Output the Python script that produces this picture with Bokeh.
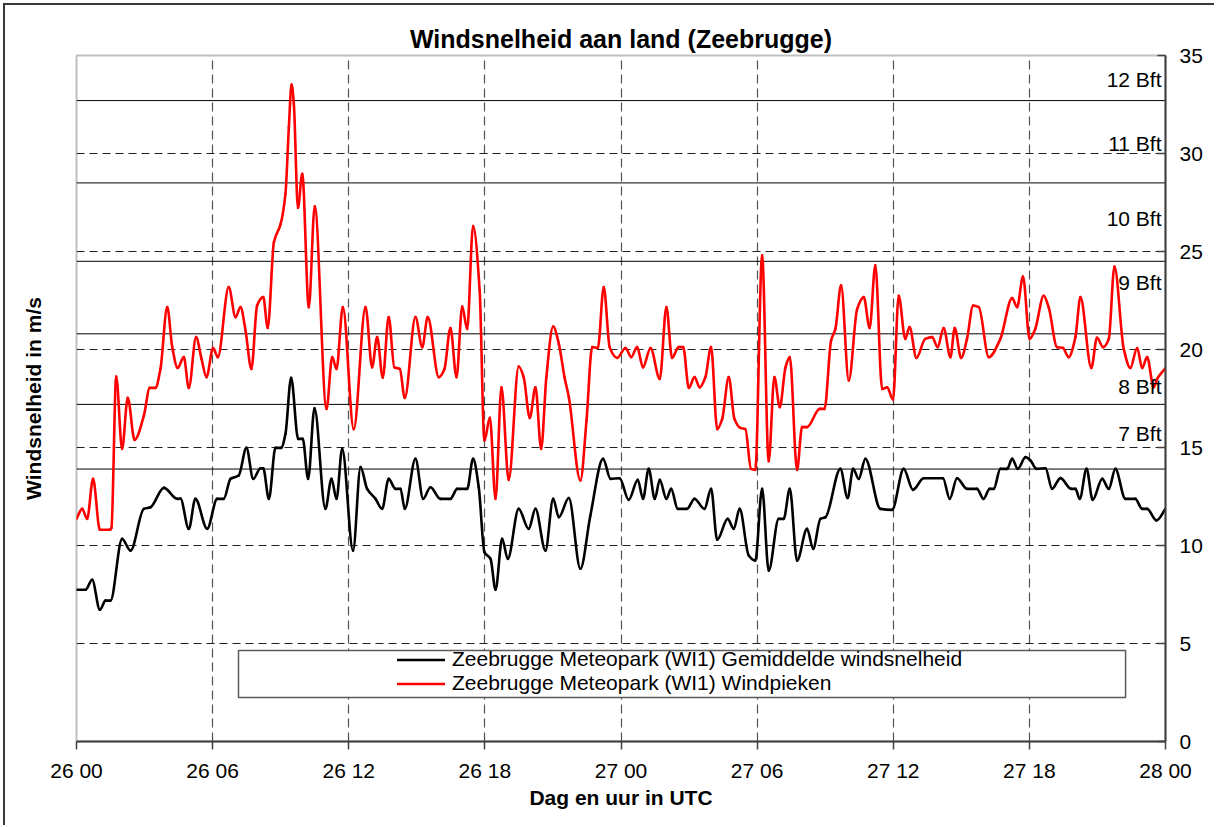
from bokeh.plotting import figure
from bokeh.models import (Range1d, Span, Label, Legend, LegendItem, BoxAnnotation,
                          FixedTicker, LinearAxis)
from bokeh.embed import file_html
from bokeh.resources import INLINE

# ---------------- data (hours since 26 00 UTC, m/s) ----------------
mean_hours = [0.0, 0.4, 0.69, 1.03, 1.28, 1.5, 2.01, 2.38, 2.97, 3.26, 3.85, 4.44, 4.58, 4.95,
              5.24, 5.76, 6.2, 6.49, 6.79, 7.15, 7.49, 7.79, 8.11, 8.23, 8.48, 8.77, 9.02, 9.21,
              9.46, 9.77, 9.97, 10.21, 10.49, 10.97, 11.24, 11.46, 11.71, 12.19, 12.52, 12.81,
              13.18, 13.47, 13.76, 14.06, 14.28, 14.47, 14.94, 15.28, 15.6, 16.04, 16.48, 16.78,
              17.22, 17.48, 17.73, 17.98, 18.25, 18.47, 18.76, 19.01, 19.49, 19.93, 20.23, 20.67,
              21.01, 21.26, 21.7, 22.21, 22.65, 23.21, 23.54, 23.94, 24.34, 24.74, 24.97, 25.22,
              25.49, 25.71, 26.0, 26.21, 26.5, 26.91, 27.24, 27.68, 27.97, 28.24, 28.7, 28.97,
              29.23, 29.63, 29.92, 30.22, 30.51, 30.95, 31.17, 31.44, 31.76, 32.2, 32.47, 32.79,
              33.01, 33.67, 33.99, 34.23, 34.48, 34.77, 35.43, 35.95, 36.46, 36.87, 37.34, 38.19,
              38.49, 38.81, 39.25, 39.69, 39.98, 40.25, 40.43, 40.72, 41.02, 41.24, 41.49, 41.83,
              42.05, 42.31, 42.71, 43.0, 43.37, 43.84, 44.03, 44.22, 44.52, 44.79, 45.21, 45.5,
              45.79, 46.23, 46.67, 46.97, 47.19, 47.6, 48.0]
mean_speed = [7.74, 7.74, 8.25, 6.72, 7.19, 7.19, 10.34, 9.74, 11.87, 11.95, 12.94, 12.38, 12.4, 10.85,
              12.38, 10.85, 12.38, 12.38, 13.4, 13.57, 14.98, 13.4, 13.94, 13.94, 12.38, 14.98, 14.98, 15.69,
              18.56, 15.44, 15.44, 13.4, 17.0, 11.87, 13.4, 12.38, 14.93, 9.74, 14.0, 12.89,
              12.38, 11.87, 13.4, 12.89, 12.89, 11.87, 14.42, 12.38, 12.97, 12.38, 12.38, 12.89,
              12.89, 14.42, 12.97, 9.66, 9.32, 7.74, 10.34, 9.32, 11.87, 10.85, 11.87, 9.74,
              12.38, 11.44, 12.42, 8.81, 11.53, 14.42, 13.4, 13.43, 12.33, 13.35, 12.38, 13.91,
              12.38, 13.35, 12.38, 12.89, 11.87, 11.87, 12.38, 11.87, 12.89, 10.29, 11.36, 10.85,
              11.87, 9.49, 9.23, 12.89, 8.72, 11.36, 11.36, 12.89, 9.23, 10.85, 9.83, 11.36,
              11.44, 13.91, 12.42, 13.91, 13.4, 14.42, 11.87, 11.82, 13.91, 12.84, 13.43, 13.43,
              12.38, 13.43, 12.89, 12.89, 12.38, 12.89, 12.89, 13.91, 13.91, 14.42, 13.91, 14.51,
              14.34, 13.91, 13.94, 12.89, 13.44, 12.89, 12.89, 12.38, 13.91, 12.33, 13.4, 12.89,
              13.91, 12.38, 12.38, 11.87, 11.87, 11.28, 11.87]

gust_hours = [0.0, 0.25, 0.47, 0.73, 1.03, 1.47, 1.54, 1.75, 2.01, 2.26, 2.56, 2.97, 3.23, 3.48,
              3.7, 4.0, 4.22, 4.46, 4.73, 4.95, 5.27, 5.51, 5.73, 6.02, 6.23, 6.71, 7.01, 7.23,
              7.45, 7.71, 7.96, 8.23, 8.43, 8.7, 9.0, 9.21, 9.36, 9.48, 9.58, 9.76, 9.95, 10.24,
              10.5, 11.02, 11.27, 11.46, 11.74, 12.22, 12.74, 13.03, 13.25, 13.5, 13.76, 14.01,
              14.25, 14.47, 14.94, 15.24, 15.48, 15.97, 16.22, 16.48, 16.75, 17.0, 17.22, 17.48,
              17.77, 17.98, 18.22, 18.47, 18.73, 19.05, 19.49, 19.71, 19.98, 20.23, 20.48, 20.71,
              21.01, 21.26, 21.51, 21.7, 22.21, 22.48, 22.73, 22.98, 23.24, 23.5, 23.83, 24.2,
              24.45, 24.71, 24.97, 25.3, 25.71, 26.0, 26.25, 26.54, 26.74, 26.99, 27.24, 27.47,
              27.72, 27.97, 28.24, 28.46, 28.75, 29.0, 29.26, 29.48, 29.73, 29.92, 30.22, 30.51,
              30.76, 31.0, 31.25, 31.44, 31.76, 31.98, 32.2, 32.76, 32.97, 33.26, 33.45, 33.7,
              34.04, 34.41, 34.7, 34.96, 35.21, 35.51, 35.73, 35.99, 36.24, 36.53, 36.72, 37.02,
              37.41, 37.71, 37.96, 38.22, 38.52, 38.71, 38.99, 39.25, 39.52, 39.77, 40.21, 40.72,
              41.24, 41.46, 41.72, 42.01, 42.26, 42.63, 42.85, 43.22, 43.48, 43.73, 44.03, 44.25,
              44.73, 44.98, 45.25, 45.5, 45.75, 46.16, 46.45, 46.75, 46.97, 47.19, 47.48, 47.63, 48.0]
gust_speed = [11.36, 11.87, 11.36, 13.4, 10.8, 10.8, 10.9, 18.62, 14.93, 17.53, 15.39, 16.63, 18.04, 18.04,
              19.01, 22.16, 20.12, 19.06, 19.61, 18.04, 20.63, 19.52, 18.59, 20.08, 19.61, 23.18, 21.65, 22.16,
              20.97, 19.01, 22.24, 22.67, 21.1, 25.47, 26.41, 27.94, 31.34, 33.52, 32.53, 27.23, 28.96, 22.16,
              27.31, 16.97, 19.61, 19.01, 22.16, 15.94, 22.16, 19.09, 20.63, 18.56, 21.65, 19.09,
              19.01, 17.53, 21.65, 20.12, 21.65, 18.59, 19.01, 21.1, 18.59, 22.19, 21.05, 26.3,
              23.0, 15.36, 16.51, 12.38, 18.07, 13.35, 19.13, 18.59, 16.51, 18.07, 14.93, 18.59,
              21.17, 20.29, 18.59, 17.57, 13.32, 16.38, 20.12, 20.08, 23.18, 20.12, 19.57, 20.08,
              19.61, 20.12, 19.09, 20.08, 18.5, 22.16, 19.57, 20.12, 20.12, 18.04, 18.59, 18.07,
              18.59, 20.12, 15.94, 16.46, 18.59, 16.46, 16.0, 15.94, 13.91, 13.86, 24.8, 14.3,
              18.59, 17.06, 19.09, 19.61, 13.86, 16.04, 16.04, 16.97, 16.97, 20.46, 21.05, 23.27,
              18.42, 22.07, 22.67, 21.1, 24.29, 17.99, 18.07, 17.45, 22.74, 20.54, 21.14, 19.57,
              20.54, 20.63, 20.12, 21.1, 19.61, 21.1, 19.57, 20.54, 22.24, 22.16, 19.61, 20.54,
              22.62, 22.16, 23.72, 20.54, 21.05, 22.74, 22.16, 20.12, 20.08, 19.61, 20.63, 22.67,
              19.06, 20.6, 20.12, 20.54, 24.23, 20.03, 19.06, 20.08, 19.06, 19.61, 18.07, 18.5, 19.06]

tick_hours = [0, 6, 12, 18, 24, 30, 36, 42, 48]
tick_labels = ["26 00", "26 06", "26 12", "26 18", "27 00", "27 06", "27 12", "27 18", "28 00"]
y_ticks = [0, 5, 10, 15, 20, 25, 30, 35]

bft_thresholds = [13.9, 17.2, 20.8, 24.5, 28.5, 32.7]
bft_names = ["7 Bft", "8 Bft", "9 Bft", "10 Bft", "11 Bft", "12 Bft"]
bft_label_y = [15.7, 18.1, 23.4, 26.7, 30.5, 33.8]

series_names = ["Zeebrugge Meteopark (WI1) Gemiddelde windsnelheid",
                "Zeebrugge Meteopark (WI1) Windpieken"]

FONT = "Liberation Sans"


def smooth_segments(xs, ys):
    """Cubic Bezier pieces through the read points (shape-preserving Hermite tangents),
    rendering the series as a smoothed line like the original spreadsheet chart."""
    n = len(xs)
    h = [xs[k + 1] - xs[k] for k in range(n - 1)]
    d = [(ys[k + 1] - ys[k]) / h[k] for k in range(n - 1)]
    m = [0.0] * n
    m[0], m[-1] = d[0], d[-1]
    for k in range(1, n - 1):
        if d[k - 1] * d[k] <= 0:
            m[k] = 0.0
        else:
            w1 = 2 * h[k] + h[k - 1]
            w2 = h[k] + 2 * h[k - 1]
            m[k] = (w1 + w2) / (w1 / d[k - 1] + w2 / d[k])
    seg = dict(x0=[], y0=[], x1=[], y1=[], cx0=[], cy0=[], cx1=[], cy1=[])
    for k in range(n - 1):
        seg["x0"].append(xs[k]); seg["y0"].append(ys[k])
        seg["x1"].append(xs[k + 1]); seg["y1"].append(ys[k + 1])
        seg["cx0"].append(xs[k] + h[k] / 3.0)
        seg["cy0"].append(ys[k] + m[k] * h[k] / 3.0)
        seg["cx1"].append(xs[k + 1] - h[k] / 3.0)
        seg["cy1"].append(ys[k + 1] - m[k + 1] * h[k] / 3.0)
    return seg


# ---------------- figure ----------------
W, H = 1211, 822
p = figure(width=W, height=H, x_range=Range1d(0, 48), y_range=Range1d(0, 35),
           output_backend="svg", toolbar_location=None, y_axis_location="right",
           min_border_left=71, min_border_right=51, min_border_top=50, min_border_bottom=86,
           title="Windsnelheid aan land (Zeebrugge)")
p.styles = {"margin-left": "3px", "margin-top": "3px",
            "border-left": "2px solid #3a3a3a", "border-top": "2px solid #3a3a3a"}

p.title.align = "center"
p.title.text_font = FONT
p.title.text_font_size = "25px"
p.title.text_font_style = "bold"
p.title.text_color = "black"
p.title.standoff = 5

p.background_fill_color = "white"
p.border_fill_color = "white"
p.outline_line_color = "#c0c0c0"
p.outline_line_width = 2

# grids
p.xgrid.ticker = FixedTicker(ticks=tick_hours)
p.xgrid.grid_line_color = "#505050"
p.xgrid.grid_line_dash = "9 5"
p.xgrid.grid_line_width = 1.2
p.ygrid.ticker = FixedTicker(ticks=y_ticks)
p.ygrid.grid_line_color = "#202020"
p.ygrid.grid_line_dash = "8 5"
p.ygrid.grid_line_width = 1

# axes
xa = p.xaxis[0]
xa.ticker = FixedTicker(ticks=tick_hours)
xa.major_label_overrides = {t: l for t, l in zip(tick_hours, tick_labels)}
xa.axis_label = "Dag en uur in UTC"
xa.axis_label_text_font = FONT
xa.axis_label_text_font_size = "21px"
xa.axis_label_text_font_style = "bold"
xa.axis_label_text_color = "black"
xa.axis_label_standoff = 1
xa.major_label_text_font = FONT
xa.major_label_text_font_size = "21px"
xa.major_label_text_color = "black"
xa.major_label_standoff = 9
xa.major_tick_out = 8
xa.major_tick_in = 0
xa.minor_tick_line_color = None
xa.axis_line_color = "#404040"
xa.axis_line_width = 2
xa.major_tick_line_color = "#404040"
xa.major_tick_line_width = 1.5

ya = p.yaxis[0]
ya.ticker = FixedTicker(ticks=y_ticks)
ya.major_label_text_font = FONT
ya.major_label_text_font_size = "21px"
ya.major_label_text_color = "black"
ya.major_label_standoff = 14
ya.major_tick_in = 8
ya.major_tick_out = 0
ya.minor_tick_line_color = None
ya.axis_line_color = "#404040"
ya.axis_line_width = 2
ya.major_tick_line_color = "#404040"
ya.major_tick_line_width = 1.5

# y-axis title on the left side (the ticks are on the right)
left_title_axis = LinearAxis(ticker=FixedTicker(ticks=[]), axis_label="Windsnelheid in m/s",
                             axis_label_text_font=FONT, axis_label_text_font_size="21px",
                             axis_label_text_font_style="bold", axis_label_text_color="black",
                             axis_label_standoff=32, axis_line_color=None,
                             major_tick_line_color=None, minor_tick_line_color=None,
                             major_tick_out=0, minor_tick_out=0, major_tick_in=0,
                             minor_tick_in=0, major_label_standoff=0)
p.add_layout(left_title_axis, "left")

# Beaufort boundaries
for t in bft_thresholds:
    p.add_layout(Span(location=t, dimension="width", line_color="black",
                      line_width=1, level="underlay"))
for name, yv in zip(bft_names, bft_label_y):
    p.add_layout(Label(x=48, y=yv, text=name, text_align="right", text_baseline="middle",
                       x_offset=-4, text_font=FONT, text_font_size="21px", text_color="black"))

# series (smoothed lines)
r_gust = p.bezier(line_color="#ff0000", line_width=2.6, line_cap="round",
                  **smooth_segments(gust_hours, gust_speed))
r_mean = p.bezier(line_color="black", line_width=2.6, line_cap="round",
                  **smooth_segments(mean_hours, mean_speed))

# legend frame and legend
p.add_layout(BoxAnnotation(left=7.14, right=46.24, bottom=2.24, top=4.64,
                           fill_color="white", fill_alpha=1.0,
                           line_color="#5a5a5a", line_alpha=1.0, line_width=1.5))
legend = Legend(items=[LegendItem(label=series_names[0], renderers=[r_mean]),
                       LegendItem(label=series_names[1], renderers=[r_gust])],
                location=(321, 46), orientation="vertical",
                padding=0, margin=0, spacing=-3,
                glyph_width=48, glyph_height=21, label_height=21, label_standoff=7,
                label_text_font=FONT, label_text_font_size="21px",
                label_text_color="black",
                border_line_alpha=0, background_fill_alpha=0)
p.add_layout(legend, "center")

open("out.html", "w").write(file_html(p, INLINE))
